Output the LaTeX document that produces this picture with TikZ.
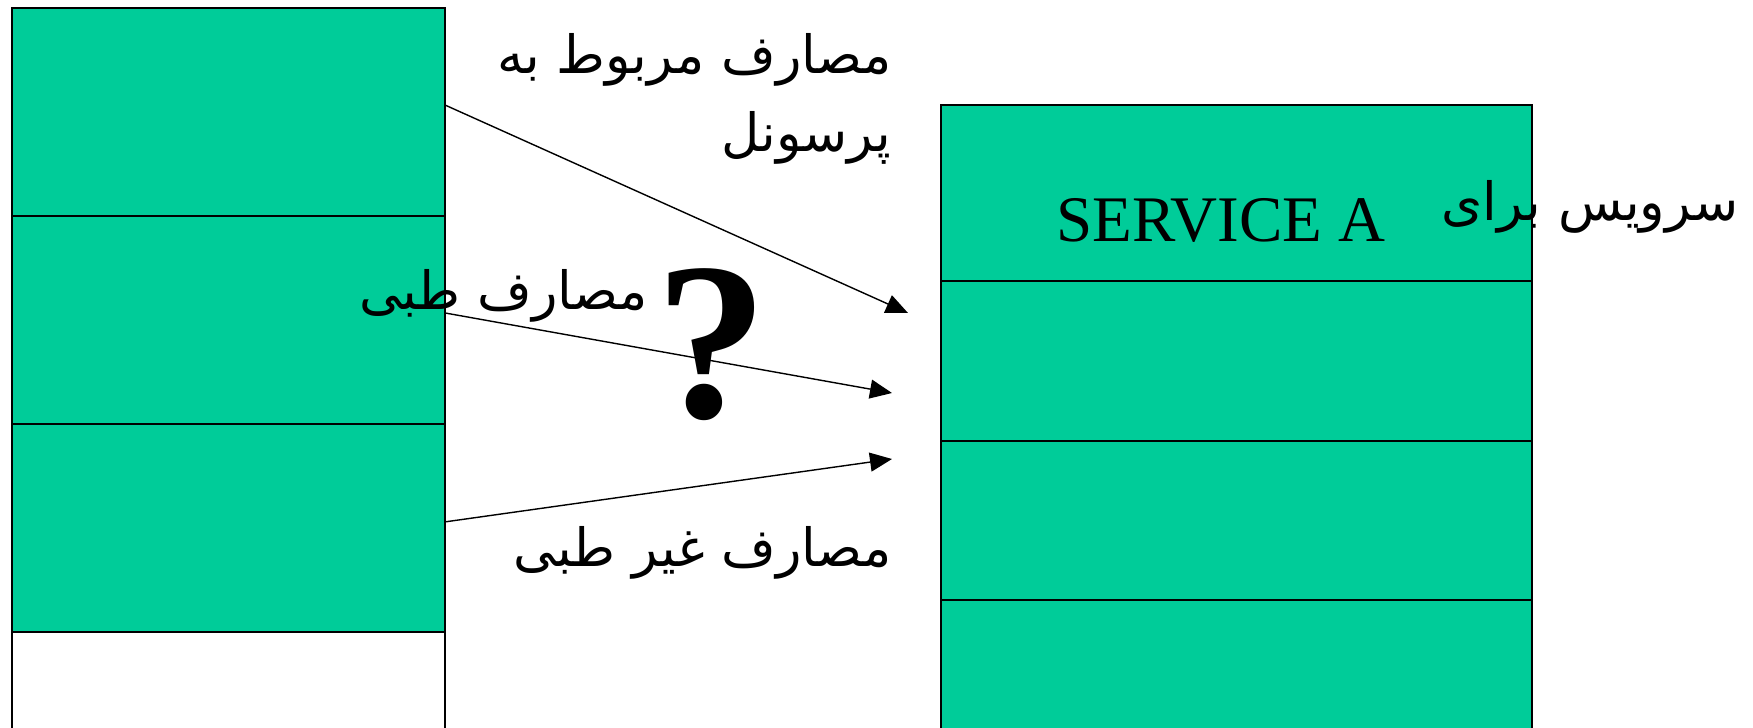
\documentclass[tikz,border=0pt]{standalone}
\usepackage{fontspec}
\setmainfont{Liberation Serif}
\newfontfamily\arabicfont[Script=Arabic]{DejaVu Sans}
\TeXXeTstate=1
\usetikzlibrary{positioning,arrows.meta}
\definecolor{servicegreen}{RGB}{0,204,153}

\begin{document}
\begin{tikzpicture}[x=0.02cm, y=-0.02cm, node distance=0pt]
        \tikzstyle{cost block} = [rectangle, draw, fill=servicegreen, line width=0.8pt, minimum width=8.66cm, minimum height=4.16cm, inner sep=0pt, outer sep=0pt]
        \tikzstyle{service block} = [rectangle, draw, fill=servicegreen, line width=0.8pt, minimum width=11.82cm, inner sep=0pt, outer sep=0pt]
        \tikzstyle{farsi} = [font=\arabicfont\fontsize{30}{44}\selectfont, inner sep=0pt, align=right]
        \tikzstyle{line} = [draw, line width=0.8pt, -{Triangle[length=0.44cm, width=0.38cm]}]

    \clip (0,0) rectangle (1753,727);

    % cost centre
    \node [cost block, anchor=north west] (personnel) at (12,8) {};
    \node [cost block, below=of personnel] (medical) {};
    \node [cost block, below=of medical] (nonmedical) {};
    \node [cost block, below=of nonmedical, fill=white] (remainder) {};

    % service centre
    \node [service block, minimum height=3.52cm, anchor=north west] (service a) at (941,105) {};
    \node [service block, minimum height=3.2cm, below=of service a] (service b) {};
    \node [service block, minimum height=3.18cm, below=of service b] (service c) {};
    \node [service block, minimum height=3cm, below=of service c] (service d) {};
    \node [font=\fontsize{37}{44}\selectfont, anchor=base, inner sep=0pt] (service name) at (1221,241) {SERVICE A};

    \node [farsi, anchor=east] (personnel text) at (892,99) {\beginR مصارف مربوط به\endR\\\beginR پرسونل\endR};
    \node [farsi, anchor=east] (medical text) at (648,296) {\beginR مصارف طبی\endR};
    \node [farsi, anchor=east] (nonmedical text) at (892,553) {\beginR مصارف غیر طبی\endR};
    \node [farsi, anchor=east] (service text) at (1739,207) {\beginR سرویس برای\endR};
    \node [font=\bfseries\fontsize{128}{140}\selectfont, inner sep=0pt] (question) at (712,345) {?};

    \coordinate (tip 1) at (908,313);
    \coordinate (tip 2) at (892,393);
    \coordinate (tip 3) at (892,459);

    \path [line] ([yshift=0.14cm]personnel.east) -- (tip 1);
    \path [line] ([yshift=0.14cm]medical.east) -- (tip 2);
    \path [line] ([yshift=0.12cm]nonmedical.east) -- (tip 3);
\end{tikzpicture}
\end{document}
